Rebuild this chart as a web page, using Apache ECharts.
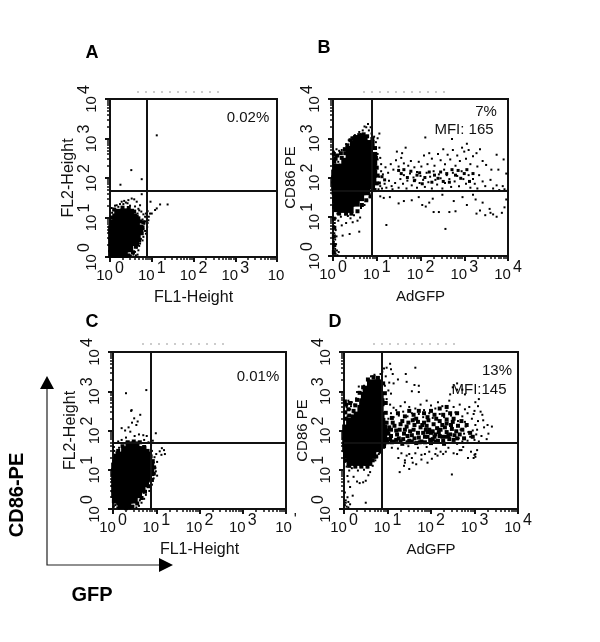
<!DOCTYPE html>
<html>
<head>
<meta charset="utf-8">
<style>
  html, body { margin: 0; background: #fff; }
  #mycharts { width: 600px; height: 642px; }
</style>
</head>
<body>
<div id="mycharts"></div>
<script src="https://cdn.jsdelivr.net/npm/echarts@6/dist/echarts.min.js"></script>
<script>
// all events are read off the picture, in decades (2.0 means 10^2)
// core = dense middle of a population, edge/clump = thick rim and clusters, dots = single events
const aCore = [[.05,.08],[.2,.08],[.33,.08],[.05,.22],[.2,.22],[.35,.22],[.46,.22],[.05,.38],[.2,.38],[.35,.38],[.5,.38],[.6,.38],[.05,.54],[.2,.54],[.35,.54],[.5,.54],[.64,.54],[.05,.7],[.2,.7],[.35,.7],[.5,.7],[.65,.7],[.7,.72],[.08,.85],[.2,.85],[.35,.85],[.5,.85],[.62,.85],[.15,1],[.25,1],[.4,1],[.55,1],[.2,1.12],[.35,1.13],[.48,1.12]];
const aEdge = [[.1,1.2],[.3,1.25],[.45,1.24],[.58,1.15],[.64,1.02],[.72,.9],[.78,.75],[.76,.6],[.7,.42],[.62,.26],[.55,.12],[.44,.04],[.16,1.1],[.04,1],[.68,.98],[.8,.88]];
const aDots = [[1.12,3.08],[.51,2.2],[.76,1.97],[.25,1.83],[.76,1.59],[1.2,1.33],[1.38,1.33],[1.08,1.19],[1.12,1.23],[1,1.1],[.97,1.4],[.16,1.31],[.28,1.4],[.44,1.44],[.52,1.48],[.64,1.4],[.72,1.31],[.58,1.46],[.38,1.38],[.2,1.27],[.1,1.22],[.05,1.12],[.68,1.22],[.75,1.15],[.8,1.08],[.84,1.02],[.92,.93],[.96,1.1],[.89,.76],[.86,.59],[.8,.51],[.72,.34],[.68,.17],[.6,.13],[.76,.68],[.82,.84],[.88,1],[.78,.95],[.9,1.16],[.85,.9],[.7,.28],[.64,.24],[.56,.06],[.5,.04],[.74,.46],[.8,.7],[.66,1.1],[.32,1.34],[.48,1.3],[.6,1.28],[.24,1.34],[.12,1.3],[.04,1.24],[.34,1.42],[.42,1.36],[.7,1.18],[.86,1.1],[.93,1.02],[.9,.86],[.84,.66],[.78,.42],[.66,.06],[.62,.04]];

const bCore = [[.1,1.22],[.25,1.2],[.38,1.2],[.1,1.36],[.25,1.36],[.4,1.36],[.52,1.36],[.08,1.5],[.22,1.5],[.36,1.5],[.5,1.5],[.62,1.5],[.06,1.65],[.2,1.65],[.35,1.65],[.5,1.65],[.65,1.65],[.76,1.65],[.05,1.8],[.2,1.8],[.35,1.8],[.5,1.8],[.65,1.8],[.8,1.8],[.87,1.8],[.05,1.95],[.2,1.95],[.35,1.95],[.5,1.95],[.65,1.95],[.8,1.95],[.9,1.95],[.05,2.1],[.2,2.1],[.35,2.1],[.5,2.1],[.65,2.1],[.8,2.1],[.92,2.1],[.08,2.25],[.22,2.25],[.35,2.25],[.5,2.25],[.65,2.25],[.8,2.25],[.9,2.25],[.28,2.4],[.4,2.4],[.55,2.4],[.7,2.4],[.85,2.4],[.92,2.4],[.38,2.55],[.52,2.55],[.67,2.55],[.82,2.55],[.92,2.55],[.38,2.7],[.52,2.7],[.67,2.7],[.82,2.7],[.48,2.85],[.62,2.85],[.78,2.85],[.86,2.85],[.55,2.98],[.7,2.98]];
const bEdge = [[.03,2.4],[.1,2.56],[.02,2.6],[.2,2.5],[.18,2.62],[.28,2.62],[.06,2.48],[.27,2.72],[.33,2.82],[.4,2.95],[.47,3],[.6,3.08],[.7,3.1],[.78,3.05],[.9,2.98],[.96,2.75],[.98,2.5],[1,2.25],[1.02,2.05],[1,1.85],[.95,1.68],[.86,1.52],[.76,1.42],[.66,1.3],[.56,1.14],[.42,1.08],[.3,1.08],[.14,1.08],[.03,1.25],[.03,1.4],[.02,.95],[.03,.72],[.02,.5],[.03,.28],[.02,.1]];
const bClump = [[1.06,1.86],[1.12,2.02],[1.18,1.94],[1.5,2.18],[1.56,2.1],[1.62,2.2],[1.7,2],[1.78,2.16],[1.86,1.92],[1.92,2.06],[1.98,2.12],[2.04,1.84],[2.1,2],[2.2,2.14],[2.26,1.88],[2.32,2.06],[2.4,1.98],[2.46,2.14],[2.52,1.9],[2.6,2.1],[2.66,1.88],[2.72,2.2],[2.8,2.06],[2.86,2.18],[2.92,1.98],[3,2.1],[3.06,2.2],[3.12,1.9],[3.2,2.1]];
const bDots = [[.02,2.66],[.08,2.72],[.14,2.68],[.2,2.7],[.05,2.55],[.12,2.4],[.03,2.45],[.26,2.74],[.3,2.85],[.36,2.95],[.42,3.02],[.5,3.08],[.6,3.16],[.68,3.2],[.76,3.28],[.8,3.36],[.82,3.2],[.88,3.12],[.86,3.28],[.72,3.3],[.64,3.1],[.94,3.04],[1.02,3],[1.06,3.12],[.98,2.9],[1.06,2.76],[1.02,2.6],[1.08,2.5],[1.1,2.34],[1.02,2.46],[.98,2.74],
[.02,1.3],[.06,1.18],[.1,1.08],[.18,1],[.28,1.06],[.34,1.02],[.48,1.04],[.56,1.12],[.64,1.22],[.72,1.3],[.78,1.42],[.84,1.5],[.88,1.58],[.4,.96],[.3,.84],[.2,.78],[.45,.86],[.56,.9],[.62,.98],[.6,.62],[.38,.56],[.22,.52],[.12,.9],[.06,.96],[.04,.84],[.02,.76],[.06,.66],[.03,.58],[.08,.5],[.05,.42],[.02,.36],[.07,.3],[.03,.24],[.05,.18],[.09,.14],[.02,.1],[.06,.06],[.1,.02],[.04,.02],[.13,.1],[.01,.92],[.01,.68],[.01,.46],[.01,.2],
[1.22,.79],[2.57,.69],[1.08,1.52],[1.16,1.48],[1.3,1.5],[1.5,1.34],[1.62,1.4],[1.8,1.42],[1.96,1.5],[2.04,1.3],[2.12,1.26],[2.2,1.36],[2.28,1.46],[2.3,1.12],[2.42,1.12],[2.66,1.12],[2.8,1.14],[2.76,1.4],[2.96,1.5],[3.06,1.3],[3.26,1.44],[3.36,1.16],[3.28,1.08],[3.42,1.36],[3.48,1.04],[3.58,1.2],[3.6,1.1],[3.66,1.06],[3.74,1],[3.86,1.1],[3.92,1.24],[3.96,1.44],[3.98,1.66],[3.2,1.56],[2.5,1.56],
[1.04,1.7],[1.08,1.78],[1.12,1.72],[1.18,1.84],[1.22,1.74],[1.28,1.92],[1.34,1.78],[1.36,1.7],[1.42,1.86],[1.5,1.74],[1.54,1.96],[1.6,1.84],[1.62,2.06],[1.68,1.72],[1.7,1.92],[1.76,2.1],[1.8,1.8],[1.84,2],[1.88,1.94],[1.92,1.74],[1.92,2.14],[1.98,1.86],[2,2.04],[2.06,1.94],[2.1,1.76],[2.14,2.12],[2.18,1.88],[2.22,2.02],[2.26,1.72],[2.3,2.16],[2.34,1.94],[2.38,1.82],[2.42,2.08],[2.46,1.98],[2.5,1.72],[2.54,2.2],[2.56,1.86],[2.6,2.06],[2.66,1.96],[2.7,1.76],[2.74,2.12],[2.78,1.9],[2.84,2.04],[2.88,1.78],[2.94,2.16],[2.98,1.96],[3.04,1.84],[3.1,2.06],[3.14,1.74],[3.2,1.96],[3.24,1.84],[3.3,1.72],[3.34,2.06],[3.42,1.9],[3.48,1.78],[3.6,1.94],[3.66,1.72],[3.74,1.8],[3.8,1.68],[3.88,1.78],[3.92,1.7],
[1.06,2.02],[1.1,2.16],[1.14,2.08],[1.2,2.26],[1.26,2.12],[1.32,2.34],[1.38,2.2],[1.44,2.44],[1.5,2.28],[1.56,2.5],[1.62,2.36],[1.66,2.76],[1.58,2.62],[1.46,2.66],[1.72,2.3],[1.78,2.42],[1.86,2.26],[1.96,2.4],[2.02,2.28],[2.08,2.56],[2.11,3.02],[2.16,2.34],[2.2,2.62],[2.26,2.48],[2.32,2.3],[2.4,2.6],[2.46,2.44],[2.52,2.72],[2.56,2.34],[2.62,2.58],[2.68,2.46],[2.74,2.7],[2.8,2.3],[2.84,2.56],[2.9,2.42],[2.95,2.76],[3,2.66],[3.04,2.48],[3.1,2.7],[3.14,2.34],[3.2,2.54],[3.28,2.62],[3.3,2.28],[3.36,2.72],[3.42,2.42],[3.5,2.32],[3.62,2.2],[3.74,2.58],[3.78,2.2],[3.9,2.46],[3.96,2.1],[2.72,2.98],[3.06,2.86]];

const cCore = [[.2,.1],[.33,.1],[.08,.24],[.22,.24],[.36,.24],[.48,.24],[.05,.38],[.2,.38],[.35,.38],[.5,.38],[.58,.38],[.05,.52],[.2,.52],[.35,.52],[.5,.52],[.66,.52],[.05,.66],[.2,.66],[.35,.66],[.5,.66],[.65,.66],[.74,.66],[.05,.8],[.2,.8],[.35,.8],[.5,.8],[.65,.8],[.8,.8],[.05,.94],[.2,.94],[.35,.94],[.5,.94],[.65,.94],[.8,.94],[.86,.94],[.05,1.08],[.2,1.08],[.35,1.08],[.5,1.08],[.65,1.08],[.8,1.08],[.86,1.1],[.1,1.22],[.22,1.22],[.35,1.22],[.5,1.22],[.65,1.22],[.8,1.22],[.16,1.36],[.28,1.36],[.42,1.36],[.56,1.36],[.7,1.36],[.78,1.36],[.28,1.5],[.42,1.5],[.56,1.5],[.68,1.5],[.38,1.62],[.52,1.62]];
const cEdge = [[.3,.02],[.45,.06],[.56,.14],[.66,.28],[.74,.44],[.82,.58],[.9,.74],[.94,.9],[.95,1.06],[.92,1.22],[.87,1.34],[.8,1.48],[.72,1.58],[.62,1.7],[.48,1.72],[.34,1.7],[.22,1.6],[.12,1.48],[.06,1.36],[.03,1.2],[.12,.14],[.02,.2]];
const cDots = [[.3,2.95],[.77,3.03],[.42,2.5],[.43,2.52],[.63,2.4],[.49,2.31],[.57,2.23],[.44,2.2],[.54,2.14],[.36,2.08],[.2,2.06],[.28,2],[.4,1.97],[.99,1.93],[.6,1.9],[.7,1.88],[.78,1.86],[.5,1.86],[.3,1.82],[.2,1.76],[.12,1.72],[.72,1.76],[.82,1.7],[.88,1.62],[.92,1.74],[1.13,1.55],[1.18,1.5],[1.08,1.47],[1.2,1.4],[1.12,1.38],[1,1.4],[.96,1.32],[1.02,1.2],[.98,1.05],[1.02,.85],[.94,.78],[.9,.62],[.84,.46],[.76,.36],[.72,.26],[.66,.16],[.6,.08],[.54,.04],[.14,1.56],[.08,1.44],[.04,1.32],[.02,1.58],[.03,1.48],[.9,1.48],[.94,1.18],[.99,.96],[.86,.7],[.7,.42],[.62,.22],[.1,.04],[.05,.1],[.14,.02],[.02,.06],[.96,.9]];

const dCore = [[.15,1.2],[.3,1.2],[.45,1.2],[.56,1.2],[.07,1.38],[.2,1.38],[.35,1.38],[.5,1.38],[.65,1.38],[.05,1.55],[.2,1.55],[.35,1.55],[.5,1.55],[.65,1.55],[.76,1.55],[.05,1.72],[.2,1.72],[.35,1.72],[.5,1.72],[.65,1.72],[.8,1.72],[.88,1.72],[.05,1.88],[.2,1.88],[.35,1.88],[.5,1.88],[.65,1.88],[.8,1.88],[.9,1.88],[.05,2.05],[.2,2.05],[.35,2.05],[.5,2.05],[.65,2.05],[.8,2.05],[.9,2.05],[.14,2.22],[.28,2.22],[.42,2.22],[.56,2.22],[.7,2.22],[.86,2.22],[.32,2.38],[.46,2.38],[.6,2.38],[.74,2.38],[.84,2.38],[.4,2.55],[.54,2.55],[.68,2.55],[.82,2.55],[.44,2.72],[.58,2.72],[.72,2.72],[.84,2.72],[.48,2.88],[.62,2.88],[.76,2.88],[.82,2.88],[.52,3.04],[.66,3.04],[.78,3.04],[.62,3.2],[.74,3.2],[.8,3.2]];
const dEdge = [[.04,2.3],[.12,2.38],[.2,2.36],[.03,2.46],[.1,2.54],[.22,2.5],[.05,2.66],[.14,2.7],[.26,2.64],[.3,2.78],[.02,2.74],[.36,2.96],[.44,3.1],[.55,3.3],[.68,3.36],[.78,3.34],[.9,3.2],[.94,2.95],[.96,2.7],[.96,2.45],[.98,2.2],[1,2],[.98,1.78],[.92,1.6],[.84,1.46],[.74,1.34],[.66,1.24],[.54,1.08],[.4,1.08],[.26,1.08],[.12,1.1],[.04,1.24],[1,1.7],[1.08,1.86],[1.14,1.72],[1.2,2],[1.26,1.8],[1.34,1.66],[1.38,1.92],[1.44,2.1],[1.5,1.74],[1.56,1.88],[1.6,2.02],[1.66,1.68],[1.72,1.82],[1.76,2.08],[1.82,1.94],[1.86,1.7],[1.92,1.84],[1.96,2.02],[2,1.68],[2.06,2.16],[2.1,1.9],[2.16,1.74],[2.22,2.02],[2.26,1.84],[2.3,1.66],[2.36,1.96],[2.42,1.78],[2.48,2.04],[2.54,1.88],[1.04,2.08],[1.12,2.2],[1.3,2.16],[1.7,2.22],[1.94,2.26],[2.2,2.24],[2.36,2.18],[1.06,1.78],[1.22,1.9],[1.3,1.72],[1.46,1.86],[1.52,1.98],[1.62,1.8],[1.78,1.72],[1.86,1.84],[1.9,2.12],[2.04,1.78],[2.04,1.98],[2.14,2.06],[2.2,1.86],[2.32,2.08],[2.44,1.9],[2.58,1.98],[1.62,2.14],[1.84,2.2]];
const dClump = [[1.02,1.92],[1.08,2.02],[1.16,2.12],[1.28,2.02],[1.36,1.78],[1.4,2.02],[1.48,2.2],[1.56,1.72],[1.58,2.26],[1.7,1.94],[1.74,1.7],[1.8,2.14],[1.88,2.02],[1.98,1.76],[2,1.94],[2.1,1.72],[2.12,2.3],[2.18,1.96],[2.26,2.14],[2.28,1.74],[2.36,2.28],[2.4,1.86],[2.46,2.14],[2.52,1.76],[2.6,1.8],[2.62,2.12],[2.66,1.9],[2.72,2.02],[2.76,1.8],[2.82,2.14],[2.9,1.94],[2.96,1.84],[1.6,2.4],[1.72,2.5],[1.84,2.44],[1.92,2.34],[2,2.5],[2.08,2.4],[2.2,2.56],[2.28,2.4],[2.36,2.6],[2.44,2.44],[2.52,2.3],[2.6,2.44],[1.1,1.7],[1.2,1.76],[1.34,2.24],[1.46,1.7],[1.66,2.3],[1.92,1.96],[2.08,1.84],[2.34,1.84],[2.5,2.22],[2.7,2.24],[1.1,2.32],[1.24,2.44],[1.4,2.36],[1.5,2.5]];
const dDots = [[.02,2.74],[.1,2.76],[.18,2.72],[.24,2.66],[.06,2.6],[.14,2.54],[.03,2.48],[.22,2.46],[.08,2.36],[.02,2.3],[.16,2.62],[.28,2.82],[.3,2.98],[.34,3.12],[.46,3.14],[.54,3.28],[.62,3.38],[.7,3.42],[.78,3.36],[.84,3.44],[.88,3.5],[.92,3.58],[.98,3.6],[1.06,3.7],[1.08,3.56],[.96,3.38],[1.04,3.22],[1.12,3.44],[1.14,3.2],[.94,3.14],[1.02,3.02],[1.08,2.94],[.98,2.8],[1.06,2.66],[1.14,2.58],[1.24,3.3],[1.42,3.44],[1.44,3.24],[1.64,3.6],[1.62,3.16],[1.72,3.14],[1.56,3],[1.72,2.98],
[.02,1.2],[.06,1.08],[.12,.98],[.18,1.04],[.26,1.1],[.32,.98],[.38,1.08],[.46,1],[.54,1.06],[.6,.94],[.66,1.1],[.72,1.24],[.76,1.32],[.8,1.4],[.86,1.48],[.92,1.56],[.08,.84],[.1,.7],[.22,.82],[.3,.7],[.36,.66],[.44,.68],[.5,.72],[.56,.86],[.14,.56],[.2,.34],[.08,.3],[.5,.16],[.1,.18],[.04,.16],[.14,.12],[.06,.06],[.02,.1],[.1,.04],[.02,.42],[.04,.22],
[1.25,1.3],[1.32,1.42],[1.4,1.24],[1.4,1.18],[1.5,1.4],[1.44,1.36],[1.58,1.18],[1.56,1.3],[1.64,1.42],[1.66,1.14],[1.78,1.26],[1.86,1.4],[1.92,1.18],[1.96,1.46],[2.02,1.28],[2.1,1.4],[2.15,1.36],[2.22,1.46],[2.28,1.4],[2.34,1.46],[2.48,.88],[2.52,1.42],[2.6,1.4],[2.66,1.5],[2.74,1.58],[2.85,1.3],[2.7,1.5],[2.92,1.46],[3,1.38],[3.06,1.5],[2.98,1.3],[3.02,1.4],[3.02,1.33],[1.28,.94],[1.5,1.02],[1.38,1.1],[1.78,1.38],
[2.6,1.66],[2.64,1.8],[2.68,2.02],[2.72,1.72],[2.76,1.92],[2.8,2.1],[2.84,1.74],[2.9,1.84],[2.96,2],[3,1.76],[3.04,1.9],[3.1,1.72],[3.16,1.86],[3.22,2.08],[3.28,1.78],[3.32,1.92],[3.02,2.14],[2.86,1.96],[2.62,2.24],[2.78,2.22],[2.94,2.3],
[1.02,2.3],[1.08,2.44],[1.14,2.34],[1.2,2.52],[1.26,2.38],[1.3,2.62],[1.36,2.48],[1.4,2.72],[1.46,2.36],[1.5,2.6],[1.56,2.44],[1.6,2.3],[1.64,2.56],[1.72,2.42],[1.76,2.66],[1.82,2.34],[1.84,2.52],[1.9,2.76],[1.96,2.44],[2,2.64],[2.04,2.32],[2.1,2.56],[2.16,2.72],[2.2,2.42],[2.26,2.62],[2.3,2.34],[2.36,2.5],[2.42,2.76],[2.46,2.38],[2.52,2.6],[2.56,2.46],[2.62,2.42],[2.66,2.66],[2.72,2.36],[2.78,2.54],[2.84,2.44],[2.88,2.6],[3,2.5],[3.08,2.62],[3.14,2.48],[2.98,2.42],[3.02,2.72],[2.72,3.04],[2.6,3.2],[2.6,3.04],[2.5,3.1],[2.44,2.92],[2.78,2.92],[3.1,2.8],[3.08,2.24],[3.18,2.4],[3.2,2.26],[1.1,1.56],[1.24,1.54],[1.48,1.6],[1.7,1.56],[1.9,1.58],[2.12,1.54],[2.4,1.56],[3.3,2.14],[3.4,2.1],[3.06,2.02]];

const tickExp = ["0", "1", "2", "3", "4"];
const minorTicks = [2,3,4,5,6,7,8,9,20,30,40,50,60,70,80,90,200,300,400,500,600,700,800,900,2000,3000,4000,5000,6000,7000,8000,9000];

const fromDecades = pts => pts.map(p => [Math.pow(10, p[0]), Math.pow(10, p[1])]);

const panels = [
  { left: 110, top: 99, width: 167, height: 158, xName: "FL1-Height", yName: "FL2-Height", nameSize: 16, yGap: 33, lastX: "", gate: [7.7, 47], core: aCore, edge: aEdge, clump: [], clumpSize: 3, dots: aDots },
  { left: 333, top: 99, width: 175, height: 157, xName: "AdGFP", yName: "CD86 PE", nameSize: 15, yGap: 35, lastX: "4", gate: [7.8, 45], core: bCore, edge: bEdge, clump: bClump, clumpSize: 3, dots: bDots },
  { left: 113, top: 352, width: 173, height: 157, xName: "FL1-Height", yName: "FL2-Height", nameSize: 16, yGap: 34, lastX: "'", gate: [7.6, 48], core: cCore, edge: cEdge, clump: [], clumpSize: 3, dots: cDots },
  { left: 344, top: 352, width: 174, height: 157, xName: "AdGFP", yName: "CD86 PE", nameSize: 15, yGap: 33, lastX: "4", gate: [7.5, 48], core: dCore, edge: dEdge, clump: dClump, clumpSize: 4, dots: dDots }
];

const ink = "#111";
const labelFont = "'Liberation Sans', Arial, sans-serif";
const richTick = {
  b: { fontSize: 15, color: ink, fontFamily: labelFont },
  e: { fontSize: 16, color: ink, fontFamily: labelFont, padding: [0, 0, 13, 2] }
};

function logAxis(gridIndex, position, extra) {
  return Object.assign({
    type: "log", logBase: 10, min: 1, max: 10000, gridIndex: gridIndex, position: position,
    splitLine: { show: false },
    axisLine: { show: false }
  }, extra);
}

let grid = [], xAxis = [], yAxis = [], series = [];
panels.forEach((p, i) => {
  grid.push({
    left: p.left, top: p.top, width: p.width, height: p.height,
    show: true, borderColor: ink, borderWidth: 2, backgroundColor: "transparent"
  });
  xAxis.push(logAxis(i, "bottom", {
    name: p.xName, nameLocation: "center", nameGap: 33,
    nameTextStyle: { fontSize: p.nameSize, color: ink, fontFamily: labelFont },
    axisTick: { show: true, length: 5, lineStyle: { color: ink, width: 2 } },
    axisLabel: {
      show: true, margin: 4, showMinLabel: true, showMaxLabel: true, hideOverlap: false, rich: richTick,
      formatter: v => {
        const n = Math.round(Math.log10(v));
        const e = n === 4 ? p.lastX : tickExp[n];
        return "{b|10}{e|" + e + "}";
      }
    }
  }));
  yAxis.push(logAxis(i, "left", {
    name: p.yName, nameLocation: "center", nameGap: p.yGap,
    nameTextStyle: { fontSize: p.nameSize, color: ink, fontFamily: labelFont },
    axisTick: { show: true, length: 5, lineStyle: { color: ink, width: 2 } },
    axisLabel: {
      show: true, margin: 4, rotate: 90, showMinLabel: true, showMaxLabel: true, hideOverlap: false, rich: richTick,
      formatter: v => "{b|10}{e|" + tickExp[Math.round(Math.log10(v))] + "}"
    }
  }));
});
// second pair of axes only carries the small log ticks
panels.forEach((p, i) => {
  const small = { show: true, length: 3, customValues: minorTicks, lineStyle: { color: ink, width: 1.5 } };
  xAxis.push(logAxis(i, "bottom", { axisTick: small, axisLabel: { show: false } }));
  yAxis.push(logAxis(i, "left", { axisTick: small, axisLabel: { show: false } }));
});

panels.forEach((p, i) => {
  const base = { type: "scatter", xAxisIndex: i, yAxisIndex: i, symbol: "rect", silent: true, itemStyle: { color: "#000", opacity: 1 } };
  series.push(Object.assign({}, base, { data: fromDecades(p.core), symbolSize: 8 }));
  series.push(Object.assign({}, base, { data: fromDecades(p.edge), symbolSize: 4 }));
  series.push(Object.assign({}, base, { data: fromDecades(p.clump), symbolSize: p.clumpSize }));
  series.push(Object.assign({}, base, {
    data: fromDecades(p.dots), symbolSize: 2,
    markLine: {
      silent: true, symbol: "none", animation: false, label: { show: false },
      lineStyle: { color: ink, width: 2, type: "solid" },
      data: [{ xAxis: p.gate[0] }, { yAxis: p.gate[1] }]
    }
  }));
});

const noteText = (x, y, text, opts) => ({
  type: "text", x: x, y: y,
  style: Object.assign({ text: text, fill: ink, font: "15px " + labelFont, align: "center", verticalAlign: "middle" }, opts)
});
const bold = { font: "bold 18px " + labelFont, fill: "#000" };
const boldBig = { font: "bold 20px " + labelFont, fill: "#000" };
const headerDash = (x1, x2, y) => ({
  type: "line", shape: { x1: x1, y1: y, x2: x2, y2: y },
  style: { stroke: "#999", lineWidth: 1, lineDash: [2, 6] }
});
const arrowStyle = { stroke: "#222", lineWidth: 1.2, fill: "none" };

const graphic = [
  noteText(92, 53, "A", bold), noteText(324, 48, "B", bold), noteText(92, 322, "C", bold), noteText(335, 322, "D", bold),
  noteText(248, 118, "0.02%"), noteText(486, 112, "7%"), noteText(464, 130, "MFI: 165"),
  noteText(258, 377, "0.01%"), noteText(497, 371, "13%"), noteText(479, 390, "MFI:145"),
  headerDash(137, 219, 92), headerDash(363, 445, 92), headerDash(142, 226, 344), headerDash(373, 456, 344),
  { type: "polyline", shape: { points: [[47, 385], [47, 565], [165, 565]] }, style: arrowStyle },
  { type: "polygon", shape: { points: [[47, 376], [40, 389], [54, 389]] }, style: { fill: "#000" } },
  { type: "polygon", shape: { points: [[173, 565], [159, 558], [159, 572]] }, style: { fill: "#000" } },
  Object.assign(noteText(17, 495, "CD86-PE", boldBig), { rotation: Math.PI / 2 }),
  noteText(92, 595, "GFP", boldBig)
];

const myCharts = echarts.init(document.getElementById("mycharts"));
myCharts.setOption({
  animation: false,
  backgroundColor: "#fff",
  grid: grid,
  xAxis: xAxis,
  yAxis: yAxis,
  series: series,
  graphic: graphic
});
</script>
</body>
</html>
